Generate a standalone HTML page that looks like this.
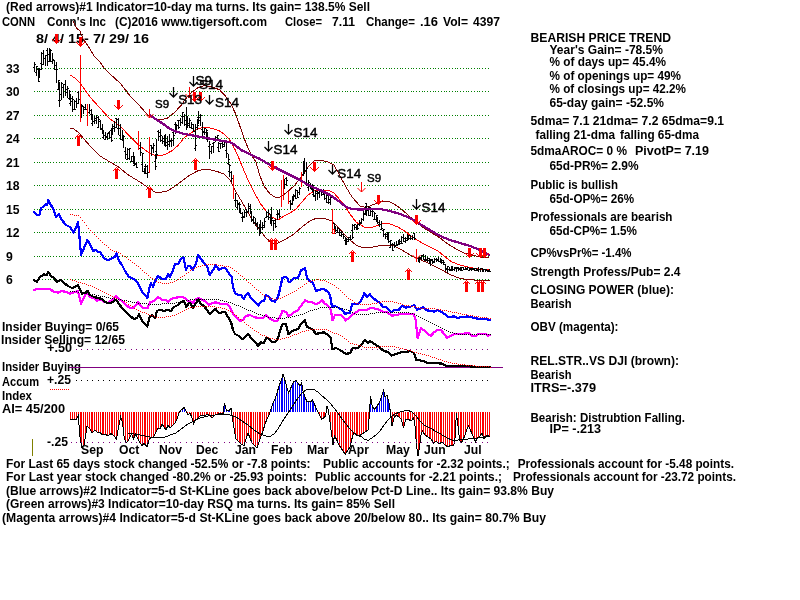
<!DOCTYPE html>
<html><head><meta charset="utf-8"><title>CONN Conn's Inc - TigerSoft chart</title>
<style>html,body{margin:0;padding:0;background:#fff;}svg{display:block}.t{font-family:"Liberation Sans",Arial,sans-serif;font-weight:bold;font-size:12.2px;fill:#000}.s{font-family:"Liberation Sans",Arial,sans-serif;fill:#000}</style></head><body>
<svg width="800" height="600" viewBox="0 0 800 600">
<rect width="800" height="600" fill="#fff"/>
<defs><pattern id="gd" x="34" y="0" width="11" height="1" patternUnits="userSpaceOnUse"><rect x="0" y="0" width="1" height="1" fill="#008000"/><rect x="3" y="0" width="1" height="1" fill="#008000"/><rect x="5" y="0" width="1" height="1" fill="#008000"/><rect x="8" y="0" width="1" height="1" fill="#008000"/></pattern></defs>
<text class="t" x="6" y="10.5" textLength="364.0" lengthAdjust="spacingAndGlyphs">(Red arrows)#1 Indicator=10-day ma turns. Its gain= 138.5% Sell</text>
<text class="t" x="2" y="26" textLength="33.0" lengthAdjust="spacingAndGlyphs">CONN</text>
<text class="t" x="47" y="26" textLength="59.0" lengthAdjust="spacingAndGlyphs">Conn's Inc</text>
<text class="t" x="115" y="26" textLength="152.0" lengthAdjust="spacingAndGlyphs">(C)2016 www.tigersoft.com</text>
<text class="t" x="285" y="26" textLength="37.0" lengthAdjust="spacingAndGlyphs">Close=</text>
<text class="t" x="332" y="26" textLength="23.0" lengthAdjust="spacingAndGlyphs">7.11</text>
<text class="t" x="366" y="26" textLength="49.0" lengthAdjust="spacingAndGlyphs">Change=</text>
<text class="t" x="420" y="26" textLength="18.0" lengthAdjust="spacingAndGlyphs">.16</text>
<text class="t" x="443" y="26" textLength="25.0" lengthAdjust="spacingAndGlyphs">Vol=</text>
<text class="t" x="473" y="26" textLength="27.0" lengthAdjust="spacingAndGlyphs">4397</text>
<text class="t" x="36" y="43" textLength="113.0" lengthAdjust="spacingAndGlyphs">8/ 4/ 15- 7/ 29/ 16</text>
<text class="t" x="530.5" y="42" textLength="140.5" lengthAdjust="spacingAndGlyphs">BEARISH PRICE TREND</text>
<text class="t" x="549.5" y="54" textLength="113.5" lengthAdjust="spacingAndGlyphs">Year's Gain= -78.5%</text>
<text class="t" x="549.5" y="66" textLength="116.5" lengthAdjust="spacingAndGlyphs">% of days up= 45.4%</text>
<text class="t" x="549.5" y="80" textLength="131.5" lengthAdjust="spacingAndGlyphs">% of openings up= 49%</text>
<text class="t" x="549.5" y="93" textLength="136.5" lengthAdjust="spacingAndGlyphs">% of closings up= 42.2%</text>
<text class="t" x="549.5" y="107" textLength="114.5" lengthAdjust="spacingAndGlyphs">65-day gain= -52.5%</text>
<text class="t" x="530.5" y="125" textLength="193.5" lengthAdjust="spacingAndGlyphs">5dma= 7.1 21dma= 7.2 65dma=9.1</text>
<text class="t" x="535.5" y="138.5" textLength="79.5" lengthAdjust="spacingAndGlyphs">falling 21-dma</text>
<text class="t" x="620" y="138.5" textLength="79.0" lengthAdjust="spacingAndGlyphs">falling 65-dma</text>
<text class="t" x="530.5" y="154.5" textLength="96.5" lengthAdjust="spacingAndGlyphs">5dmaAROC= 0 %</text>
<text class="t" x="635" y="154.5" textLength="74.0" lengthAdjust="spacingAndGlyphs">PivotP= 7.19</text>
<text class="t" x="549.5" y="170" textLength="89.0" lengthAdjust="spacingAndGlyphs">65d-PR%= 2.9%</text>
<text class="t" x="530.5" y="188.5" textLength="87.5" lengthAdjust="spacingAndGlyphs">Public is bullish</text>
<text class="t" x="549.5" y="202.5" textLength="84.5" lengthAdjust="spacingAndGlyphs">65d-OP%= 26%</text>
<text class="t" x="530.5" y="220.5" textLength="142.0" lengthAdjust="spacingAndGlyphs">Professionals are bearish</text>
<text class="t" x="549.5" y="234.5" textLength="87.5" lengthAdjust="spacingAndGlyphs">65d-CP%= 1.5%</text>
<text class="t" x="530.5" y="257" textLength="101.0" lengthAdjust="spacingAndGlyphs">CP%vsPr%= -1.4%</text>
<text class="t" x="530.5" y="275.5" textLength="150.0" lengthAdjust="spacingAndGlyphs">Strength Profess/Pub= 2.4</text>
<text class="t" x="530.5" y="293.5" textLength="143.5" lengthAdjust="spacingAndGlyphs">CLOSING POWER (blue):</text>
<text class="t" x="530.5" y="307.5" textLength="41.0" lengthAdjust="spacingAndGlyphs">Bearish</text>
<text class="t" x="530.5" y="330.5" textLength="88.0" lengthAdjust="spacingAndGlyphs">OBV (magenta):</text>
<text class="t" x="530.5" y="365" textLength="148.5" lengthAdjust="spacingAndGlyphs">REL.STR..VS DJI (brown):</text>
<text class="t" x="530.5" y="378.5" textLength="41.0" lengthAdjust="spacingAndGlyphs">Bearish</text>
<text class="t" x="530.5" y="391.5" textLength="65.5" lengthAdjust="spacingAndGlyphs">ITRS=-.379</text>
<text class="t" x="530.5" y="422" textLength="154.5" lengthAdjust="spacingAndGlyphs">Bearish: Distrubtion Falling.</text>
<text class="t" x="549.5" y="432.5" textLength="51.5" lengthAdjust="spacingAndGlyphs">IP= -.213</text>
<text class="t" x="2" y="330.5" textLength="117.0" lengthAdjust="spacingAndGlyphs">Insider Buying= 0/65</text>
<text class="t" x="1" y="344" textLength="124.0" lengthAdjust="spacingAndGlyphs">Insider Selling= 12/65</text>
<text class="t" x="47" y="352" textLength="25.0" lengthAdjust="spacingAndGlyphs">+.50</text>
<text class="t" x="2" y="370.7" textLength="79.0" lengthAdjust="spacingAndGlyphs">Insider Buying</text>
<text class="t" x="2" y="385.5" textLength="37.0" lengthAdjust="spacingAndGlyphs">Accum</text>
<text class="t" x="47" y="384" textLength="24.0" lengthAdjust="spacingAndGlyphs">+.25</text>
<text class="t" x="2" y="399.5" textLength="30.0" lengthAdjust="spacingAndGlyphs">Index</text>
<text class="t" x="2" y="412.5" textLength="63.0" lengthAdjust="spacingAndGlyphs">AI= 45/200</text>
<text class="t" x="47" y="445.7" textLength="21.0" lengthAdjust="spacingAndGlyphs">-.25</text>
<text class="t" x="6" y="468" textLength="304.6" lengthAdjust="spacingAndGlyphs">For Last 65 days stock changed -52.5% or -7.8 points:</text>
<text class="t" x="323" y="468" textLength="186.7" lengthAdjust="spacingAndGlyphs">Public accounts for -2.32 points.;</text>
<text class="t" x="517.7" y="468" textLength="216.3" lengthAdjust="spacingAndGlyphs">Professionals account for -5.48 points.</text>
<text class="t" x="6" y="481" textLength="301.0" lengthAdjust="spacingAndGlyphs">For Last year stock changed -80.2% or -25.93 points:</text>
<text class="t" x="315" y="481" textLength="187.0" lengthAdjust="spacingAndGlyphs">Public accounts for -2.21 points.;</text>
<text class="t" x="513" y="481" textLength="223.0" lengthAdjust="spacingAndGlyphs">Professionals account for -23.72 points.</text>
<text class="t" x="6" y="494.5" textLength="548.0" lengthAdjust="spacingAndGlyphs">(Blue arrows)#2 Indicator=5-d St-KLine goes back above/below Pct-D Line.. Its gain= 93.8% Buy</text>
<text class="t" x="6" y="508" textLength="389.0" lengthAdjust="spacingAndGlyphs">(Green arrows)#3 Indicator=10-day RSQ ma turns. Its gain= 85% Sell</text>
<text class="t" x="2" y="521.5" textLength="544.0" lengthAdjust="spacingAndGlyphs">(Magenta arrows)#4 Indicator=5-d St-KLine goes back above 20/below 80.. Its gain= 80.7% Buy</text>
<text class="t" x="6" y="73">33</text>
<text class="t" x="6" y="96">30</text>
<text class="t" x="6" y="120">27</text>
<text class="t" x="6" y="143">24</text>
<text class="t" x="6" y="167">21</text>
<text class="t" x="6" y="190">18</text>
<text class="t" x="6" y="214">15</text>
<text class="t" x="6" y="237">12</text>
<text class="t" x="6" y="261">9</text>
<text class="t" x="6" y="284">6</text>
<text class="t" x="81" y="453.6">Sep</text>
<text class="t" x="119" y="453.6">Oct</text>
<text class="t" x="159" y="453.6">Nov</text>
<text class="t" x="196" y="453.6">Dec</text>
<text class="t" x="235" y="453.6">Jan</text>
<text class="t" x="271" y="453.6">Feb</text>
<text class="t" x="307" y="453.6">Mar</text>
<text class="t" x="348" y="453.6">Apr</text>
<text class="t" x="386" y="453.6">May</text>
<text class="t" x="424" y="453.6">Jun</text>
<text class="t" x="464" y="453.6">Jul</text>
<g shape-rendering="crispEdges">
<rect x="34" y="68" width="456" height="1" fill="url(#gd)"/>
<rect x="34" y="91" width="456" height="1" fill="url(#gd)"/>
<rect x="34" y="115" width="456" height="1" fill="url(#gd)"/>
<rect x="34" y="138" width="456" height="1" fill="url(#gd)"/>
<rect x="34" y="162" width="456" height="1" fill="url(#gd)"/>
<rect x="34" y="185" width="456" height="1" fill="url(#gd)"/>
<rect x="34" y="209" width="456" height="1" fill="url(#gd)"/>
<rect x="34" y="232" width="456" height="1" fill="url(#gd)"/>
<rect x="34" y="256" width="456" height="1" fill="url(#gd)"/>
<rect x="34" y="279" width="456" height="1" fill="url(#gd)"/>
</g>
<g shape-rendering="crispEdges">
<path d="M70.5 412V420M72.5 412V419M74.5 412V420M76.5 412V419M78.5 412V415M80.5 412V437M81.5 412V447M83.5 412V445M85.5 412V436M87.5 412V426M89.5 412V428M91.5 412V431M92.5 412V432M94.5 412V430M96.5 412V432M98.5 412V433M100.5 412V432M102.5 412V435M103.5 412V434M105.5 412V434M107.5 412V436M109.5 412V435M111.5 412V434M112.5 412V435M114.5 412V437M116.5 412V438M118.5 412V428M120.5 412V419M122.5 412V421M123.5 412V435M125.5 412V442M127.5 412V441M129.5 412V438M131.5 412V435M133.5 412V438M134.5 412V436M136.5 412V436M138.5 412V440M140.5 412V443M142.5 412V446M144.5 412V443M145.5 412V445M147.5 412V445M149.5 412V439M151.5 412V437M153.5 412V438M155.5 412V434M156.5 412V430M158.5 412V428M160.5 412V428M162.5 412V424M164.5 412V427M165.5 412V430M167.5 412V426M169.5 412V427M171.5 412V427M173.5 412V425M175.5 412V423M176.5 412V419M178.5 412V414M187.5 412V415M189.5 412V413M191.5 412V417M193.5 412V423M195.5 412V421M197.5 412V419M198.5 412V417M200.5 412V415M202.5 412V415M204.5 412V415M206.5 412V415M207.5 412V414M209.5 412V416M211.5 412V418M213.5 412V417M215.5 412V415M217.5 412V414M218.5 412V414M220.5 412V414M222.5 412V414M231.5 412V413M233.5 412V425M235.5 412V436M237.5 412V440M239.5 412V442M240.5 412V444M242.5 412V445M244.5 412V444M246.5 412V438M248.5 412V433M250.5 412V438M251.5 412V443M253.5 412V445M255.5 412V446M257.5 412V447M259.5 412V442M260.5 412V436M262.5 412V431M264.5 412V425M266.5 412V420M268.5 412V416M319.5 412V415M321.5 412V418M323.5 412V418M324.5 412V417M330.5 412V425M332.5 412V439M334.5 412V438M335.5 412V438M337.5 412V442M339.5 412V446M341.5 412V449M343.5 412V451M345.5 412V453M346.5 412V452M348.5 412V449M350.5 412V445M352.5 412V437M354.5 412V433M356.5 412V435M357.5 412V436M359.5 412V436M361.5 412V434M363.5 412V433M365.5 412V432M366.5 412V431M368.5 412V422M390.5 412V415M392.5 412V424M394.5 412V417M396.5 412V415M398.5 412V416M399.5 412V418M401.5 412V420M403.5 412V428M405.5 412V421M407.5 412V419M408.5 412V420M410.5 412V421M412.5 412V419M414.5 412V423M416.5 412V443M418.5 412V455M419.5 412V443M421.5 412V433M423.5 412V433M425.5 412V435M427.5 412V437M429.5 412V438M430.5 412V439M432.5 412V442M434.5 412V442M436.5 412V441M438.5 412V443M440.5 412V443M441.5 412V442M443.5 412V444M445.5 412V445M447.5 412V447M449.5 412V446M451.5 412V445M452.5 412V446M454.5 412V440M456.5 412V414M458.5 412V429M460.5 412V441M461.5 412V442M463.5 412V438M465.5 412V433M467.5 412V428M469.5 412V428M471.5 412V432M472.5 412V436M474.5 412V440M476.5 412V440M478.5 412V437M480.5 412V436M482.5 412V433M483.5 412V439M485.5 412V436M487.5 412V435M489.5 412V436" stroke="#f00" stroke-width="1" fill="none"/>
<path d="M180.5 412V411M182.5 412V410M184.5 412V407M186.5 412V411M224.5 412V403M226.5 412V410M228.5 412V411M229.5 412V410M271.5 412V406M273.5 412V401M275.5 412V397M277.5 412V391M279.5 412V385M281.5 412V381M282.5 412V375M284.5 412V379M286.5 412V386M288.5 412V392M290.5 412V389M292.5 412V385M293.5 412V382M295.5 412V381M297.5 412V382M299.5 412V385M301.5 412V384M303.5 412V391M304.5 412V397M306.5 412V401M308.5 412V401M310.5 412V402M312.5 412V400M313.5 412V403M315.5 412V408M317.5 412V411M326.5 412V408M328.5 412V411M370.5 412V397M372.5 412V407M374.5 412V409M376.5 412V407M377.5 412V405M379.5 412V401M381.5 412V396M383.5 412V391M385.5 412V397M387.5 412V395M388.5 412V403" stroke="#00f" stroke-width="1" fill="none"/>
<polyline points="70.0,420.0 73.0,419.0 76.0,420.0 78.4,415.0 79.6,434.0 81.6,447.0 84.0,445.0 85.6,436.0 87.0,426.0 90.0,429.0 92.0,433.0 95.0,430.0 98.0,433.0 100.0,432.0 102.0,435.0 105.0,434.0 108.0,436.0 111.0,433.6 114.0,436.0 116.4,439.0 118.4,428.0 120.6,417.0 122.4,422.0 124.0,436.0 126.0,443.0 128.0,441.0 130.0,437.0 131.6,434.0 133.6,439.0 135.6,434.0 137.6,438.0 139.6,442.0 142.0,446.0 144.0,443.0 147.0,447.0 149.0,440.0 151.0,437.0 153.0,438.0 156.0,432.0 158.0,428.0 160.0,429.0 162.0,424.0 164.0,427.0 166.0,430.0 168.0,425.0 170.0,428.0 172.0,426.0 175.0,423.0 177.0,419.0 179.0,413.0 181.0,410.0 182.4,409.6 184.0,407.0 186.0,411.0 188.0,415.0 190.0,413.0 192.0,418.0 193.6,424.0 195.6,420.0 198.0,418.0 201.0,415.0 204.0,415.6 208.0,414.4 212.0,418.0 215.0,415.0 220.0,413.6 223.0,414.0 224.4,403.0 226.4,410.0 229.0,411.0 231.0,408.0 232.4,418.0 234.0,428.0 236.0,439.0 239.0,442.0 241.0,444.0 244.0,445.6 246.0,439.0 248.0,433.0 250.0,438.0 252.0,443.0 255.0,446.0 257.0,447.6 259.0,442.0 261.0,436.0 263.0,431.0 265.0,424.0 267.0,419.0 269.0,415.0 271.0,409.0 273.0,403.0 275.0,399.0 277.0,393.0 279.0,386.0 281.0,381.0 283.0,374.4 285.0,380.0 287.0,388.0 288.6,393.0 290.0,390.0 292.0,385.0 294.0,381.6 296.0,380.4 298.0,383.0 300.0,386.0 301.6,383.0 303.0,391.0 305.0,397.0 307.0,402.0 309.0,401.0 311.0,402.0 312.4,400.0 314.0,403.0 316.0,408.0 318.0,412.0 320.0,416.0 321.6,419.0 323.6,418.0 325.6,416.0 327.0,406.0 328.4,410.0 330.0,422.0 331.6,434.0 333.0,445.0 334.4,436.0 336.4,439.0 338.4,444.0 341.0,448.0 343.6,452.0 345.6,454.0 348.0,450.0 350.0,447.0 351.6,440.0 353.6,433.0 356.0,435.0 359.0,436.0 362.0,434.0 365.0,432.0 368.0,430.0 369.6,413.0 370.4,396.0 372.4,407.0 374.4,409.0 376.4,407.0 378.4,404.0 380.4,400.0 382.0,395.0 383.6,390.0 385.0,397.0 387.0,395.0 389.0,403.0 390.4,412.0 392.0,426.0 394.0,418.0 396.0,415.0 399.0,417.0 401.6,420.0 403.6,428.0 405.6,420.0 408.0,419.0 411.0,421.0 413.6,418.0 415.0,426.0 416.4,444.0 418.0,456.0 419.6,446.0 421.0,435.0 422.4,431.0 425.0,435.0 428.0,437.0 431.0,439.0 433.6,443.0 436.0,441.0 439.0,444.0 442.0,442.0 445.0,445.0 448.0,447.0 451.0,445.0 453.6,446.0 455.0,438.0 456.4,413.0 458.0,426.0 459.6,440.0 461.0,443.0 463.0,440.0 465.0,435.0 467.0,429.0 468.4,426.0 470.0,429.0 472.0,434.0 474.0,438.0 475.6,442.0 477.6,438.0 480.0,436.0 482.0,433.0 484.0,439.0 486.0,436.0 488.0,435.0 490.0,437.0" fill="none" stroke="#000" stroke-width="1"/>
<polyline points="128.0,433.0 140.0,435.0 150.0,437.0 160.0,438.0 164.0,437.6 170.0,435.0 176.0,433.0 180.0,430.0 184.0,427.0 188.0,424.0 192.0,422.0 196.0,420.0 200.0,418.0 204.0,417.0 210.0,415.6 220.0,414.4 230.0,415.0 236.0,417.0 242.0,421.0 248.0,425.0 254.0,430.0 260.0,434.0 266.0,436.0 270.0,436.4 274.0,434.0 278.0,429.0 282.0,422.0 286.0,416.0 290.0,410.0 294.0,404.0 298.0,398.0 302.0,393.0 306.0,390.0 310.0,389.4 314.0,389.6 318.0,392.0 322.0,396.0 326.0,399.0 330.0,403.0 334.0,408.0 338.0,413.0 342.0,419.0 346.0,424.0 350.0,429.0 354.0,433.0 358.0,435.6 362.0,437.0 364.0,439.0 368.0,440.4 372.0,438.0 376.0,435.0 380.0,431.0 384.0,425.0 388.0,420.0 392.0,416.0 396.0,413.6 400.0,412.0 404.0,411.0 408.0,410.4 412.0,412.0 416.0,416.0 420.0,421.0 424.0,425.0 428.0,427.0 432.0,429.0 436.0,431.6 440.0,433.6 444.0,436.0 448.0,438.4 452.0,440.0 456.0,440.4 460.0,439.6 468.0,439.0 476.0,438.4 484.0,437.0 490.0,436.0" fill="none" stroke="#000" stroke-width="1"/>
</g>
<g shape-rendering="crispEdges" fill="none">
<line x1="76" y1="349.5" x2="489" y2="349.5" stroke="#800080" stroke-width="1" stroke-dasharray="1 4.48"/>
<line x1="70.5" y1="442.5" x2="489" y2="442.5" stroke="#800080" stroke-width="1" stroke-dasharray="1 4.48"/>
<line x1="76" y1="380.5" x2="489" y2="380.5" stroke="#000" stroke-width="1" stroke-dasharray="1 4.48"/>
<line x1="69" y1="367.5" x2="503" y2="367.5" stroke="#800080" stroke-width="1"/>
<line x1="50" y1="389.5" x2="70" y2="389.5" stroke="#f00" stroke-width="1" stroke-dasharray="1 1"/>
<line x1="32.5" y1="439" x2="32.5" y2="456" stroke="#808000" stroke-width="1"/>
</g>
<g shape-rendering="crispEdges" fill="none" stroke-linejoin="round">
<polyline points="73.0,21.0 76.5,28.0 80.0,31.0 83.0,39.0 86.0,43.0 90.0,49.0 94.0,56.0 100.0,62.0 104.0,68.0 110.0,74.0 120.0,83.0 125.5,90.0 130.0,96.0 133.0,99.0 139.0,105.0 145.0,112.0 149.5,116.5 155.5,119.2 160.6,120.0 167.5,118.0 174.4,112.6 178.0,108.7 181.3,105.0 186.8,97.5 192.3,92.0 197.8,87.9 203.3,85.8 208.8,86.2 214.3,87.6 219.8,90.0 225.3,96.0 230.8,103.7 235.0,112.5 239.0,123.5 244.0,138.0 248.0,148.0 252.0,156.0 256.0,162.0 260.0,176.0 264.0,186.0 270.0,194.0 276.0,197.6 280.0,197.0 286.0,193.0 294.0,186.0 302.0,176.0 308.0,167.0 314.0,161.0 320.0,160.0 328.0,162.0 334.0,165.0 340.0,176.0 346.0,187.0 352.0,197.0 360.0,206.0 366.0,207.6 372.0,205.0 380.0,202.0 388.0,201.0 394.0,204.0 400.0,208.0 408.0,215.0 416.0,222.0 424.0,228.0 432.0,233.0 440.0,238.0 448.0,244.0 456.0,249.0 464.0,253.0 472.0,255.0 480.0,257.0 489.0,258.0" stroke="#800000" stroke-width="1"/>
<polyline points="70.0,128.0 74.0,129.0 79.0,133.0 84.0,139.0 90.0,146.0 94.0,150.0 100.0,156.0 110.0,162.0 118.0,166.5 127.0,174.0 130.0,176.0 140.0,182.0 150.0,189.0 156.0,192.6 166.0,191.6 174.0,187.0 182.0,181.0 190.0,175.0 199.0,170.2 208.0,169.3 217.0,171.5 224.0,174.0 230.0,180.0 236.0,192.0 242.0,202.0 250.0,216.0 258.0,228.0 266.0,238.0 272.0,243.0 278.0,243.0 286.0,239.0 294.0,234.0 302.0,227.0 310.0,221.0 316.0,218.4 326.0,219.0 332.0,221.0 338.0,227.0 344.0,234.0 350.0,240.0 356.0,245.0 362.0,247.6 370.0,247.6 378.0,246.0 386.0,245.0 394.0,246.0 402.0,250.0 410.0,255.0 418.0,259.0 426.0,262.0 434.0,266.0 442.0,270.0 450.0,274.5 458.0,277.8 466.0,279.4 474.0,280.0 482.0,280.6 490.0,281.0" stroke="#800000" stroke-width="1"/>
<polyline points="70.0,75.0 75.0,78.0 80.0,83.0 85.0,90.0 90.0,97.0 100.0,108.0 110.0,119.0 120.0,126.0 130.0,136.5 137.5,144.0 145.0,150.0 151.0,153.7 157.0,156.0 164.5,154.8 172.0,150.7 178.0,145.5 184.0,138.0 190.0,133.5 196.0,130.0 202.0,127.5 208.0,127.5 214.0,129.0 220.0,131.2 226.0,135.7 230.5,141.0 235.0,149.5 238.0,156.0 242.0,166.0 248.0,180.0 254.0,192.0 260.0,203.0 266.0,211.0 272.0,217.0 278.0,220.0 284.0,216.0 290.0,213.0 296.0,209.0 302.0,202.0 308.0,195.0 314.0,191.0 320.0,190.0 328.0,190.0 334.0,193.0 340.0,200.0 346.0,208.0 350.0,214.0 356.0,222.0 364.0,227.0 370.0,228.0 376.0,226.0 382.0,223.6 390.0,224.0 398.0,227.0 406.0,232.0 414.0,238.0 422.0,243.0 430.0,247.0 438.0,251.0 444.0,256.0 452.0,262.0 460.0,265.0 468.0,267.0 478.0,269.0 489.0,270.0" stroke="#f00" stroke-width="1"/>
</g>
<g shape-rendering="crispEdges" fill="none">
<path d="M34.5 62V72M33.0 67.5h1.5M34.5 64.5h1.5M36.5 66V76M35.0 72.5h1.5M36.5 66.5h1.5M38.5 68V82M37.0 69.5h1.5M38.5 81.5h1.5M39.5 68V78M38.0 76.5h1.5M39.5 69.5h1.5M41.5 52V70M40.0 63.5h1.5M41.5 53.5h1.5M43.5 50V65M42.0 64.5h1.5M43.5 58.5h1.5M45.5 55V66M44.0 58.5h1.5M45.5 55.5h1.5M47.5 48V66M46.0 50.5h1.5M47.5 61.5h1.5M49.5 48V62M48.0 54.5h1.5M49.5 49.5h1.5M50.5 49V62M49.0 52.5h1.5M50.5 50.5h1.5M52.5 53V64M51.0 61.5h1.5M52.5 59.5h1.5M54.5 60V70M53.0 60.5h1.5M54.5 69.5h1.5M56.5 62V83M55.0 65.5h1.5M56.5 69.5h1.5M58.5 80V90M57.0 89.5h1.5M58.5 80.5h1.5M59.5 82V107M58.0 100.5h1.5M59.5 100.5h1.5M61.5 82V100M60.0 94.5h1.5M61.5 83.5h1.5M63.5 84V98M62.0 87.5h1.5M63.5 84.5h1.5M65.5 80V96M64.0 84.5h1.5M65.5 89.5h1.5M67.5 86V98M66.0 92.5h1.5M67.5 88.5h1.5M69.5 90V100M68.0 98.5h1.5M69.5 91.5h1.5M70.5 94V106M69.0 103.5h1.5M70.5 98.5h1.5M72.5 96V112M71.0 101.5h1.5M72.5 99.5h1.5M74.5 100V110M73.0 109.5h1.5M74.5 109.5h1.5M76.5 98V108M75.0 101.5h1.5M76.5 103.5h1.5M78.5 91V104M77.0 92.5h1.5M78.5 99.5h1.5M81.5 104V118M80.0 115.5h1.5M81.5 105.5h1.5M83.5 106V114M82.0 106.5h1.5M83.5 109.5h1.5M85.5 104V110M84.0 107.5h1.5M85.5 109.5h1.5M89.5 104V114M88.0 112.5h1.5M89.5 110.5h1.5M91.5 109V120M90.0 114.5h1.5M91.5 116.5h1.5M92.5 114V126M91.0 123.5h1.5M92.5 121.5h1.5M94.5 116V124M93.0 121.5h1.5M94.5 120.5h1.5M96.5 115V124M95.0 118.5h1.5M96.5 117.5h1.5M98.5 116V128M97.0 127.5h1.5M98.5 119.5h1.5M100.5 120V130M99.0 121.5h1.5M100.5 129.5h1.5M102.5 124V134M101.0 128.5h1.5M102.5 132.5h1.5M103.5 130V139M102.0 137.5h1.5M103.5 135.5h1.5M105.5 132V140M104.0 139.5h1.5M105.5 136.5h1.5M107.5 133V140M106.0 137.5h1.5M107.5 133.5h1.5M109.5 131V139M108.0 132.5h1.5M109.5 137.5h1.5M111.5 128V142M110.0 130.5h1.5M111.5 140.5h1.5M112.5 124V135M111.0 129.5h1.5M112.5 126.5h1.5M114.5 121V132M113.0 128.5h1.5M114.5 127.5h1.5M116.5 118V128M115.0 118.5h1.5M116.5 119.5h1.5M118.5 118V135M117.0 128.5h1.5M118.5 128.5h1.5M120.5 124V140M119.0 135.5h1.5M120.5 139.5h1.5M122.5 130V141M121.0 139.5h1.5M122.5 137.5h1.5M123.5 135V148M122.0 136.5h1.5M123.5 136.5h1.5M125.5 147V159M124.0 151.5h1.5M125.5 154.5h1.5M127.5 148V160M126.0 159.5h1.5M127.5 158.5h1.5M129.5 148V160M128.0 149.5h1.5M129.5 148.5h1.5M131.5 156V162M130.0 161.5h1.5M131.5 161.5h1.5M133.5 152V164M132.0 156.5h1.5M133.5 162.5h1.5M134.5 156V166M133.0 165.5h1.5M134.5 163.5h1.5M136.5 162V168M135.0 164.5h1.5M136.5 167.5h1.5M140.5 142V156M139.0 148.5h1.5M140.5 152.5h1.5M142.5 153V172M141.0 164.5h1.5M142.5 153.5h1.5M144.5 168V174M143.0 171.5h1.5M144.5 170.5h1.5M145.5 164V174M144.0 166.5h1.5M145.5 173.5h1.5M147.5 165V178M146.0 166.5h1.5M147.5 172.5h1.5M151.5 145V156M150.0 145.5h1.5M151.5 148.5h1.5M153.5 143V153M152.0 147.5h1.5M153.5 145.5h1.5M155.5 154V170M154.0 161.5h1.5M155.5 166.5h1.5M156.5 139V159M155.0 151.5h1.5M156.5 154.5h1.5M158.5 130V141M157.0 131.5h1.5M158.5 132.5h1.5M160.5 129V142M159.0 136.5h1.5M160.5 135.5h1.5M162.5 136V144M161.0 140.5h1.5M162.5 138.5h1.5M164.5 135V146M163.0 141.5h1.5M164.5 143.5h1.5M165.5 134V147M164.0 138.5h1.5M165.5 145.5h1.5M167.5 136V150M166.0 142.5h1.5M167.5 141.5h1.5M169.5 134V147M168.0 144.5h1.5M169.5 140.5h1.5M171.5 138V147M170.0 141.5h1.5M171.5 140.5h1.5M173.5 130V146M172.0 132.5h1.5M173.5 135.5h1.5M175.5 122V134M174.0 124.5h1.5M175.5 125.5h1.5M176.5 124V130M175.0 129.5h1.5M176.5 125.5h1.5M178.5 120V129M177.0 120.5h1.5M178.5 127.5h1.5M180.5 118V126M179.0 120.5h1.5M180.5 122.5h1.5M182.5 112V124M181.0 116.5h1.5M182.5 112.5h1.5M184.5 114V126M183.0 116.5h1.5M184.5 120.5h1.5M186.5 107V130M185.0 124.5h1.5M186.5 118.5h1.5M187.5 116V128M186.0 125.5h1.5M187.5 125.5h1.5M189.5 118V128M188.0 123.5h1.5M189.5 120.5h1.5M191.5 122V129M190.0 127.5h1.5M191.5 128.5h1.5M193.5 124V132M192.0 124.5h1.5M193.5 131.5h1.5M195.5 124V151M194.0 148.5h1.5M195.5 145.5h1.5M197.5 119V130M196.0 127.5h1.5M197.5 125.5h1.5M198.5 111V124M197.0 117.5h1.5M198.5 117.5h1.5M200.5 114V126M199.0 120.5h1.5M200.5 115.5h1.5M202.5 122V136M201.0 129.5h1.5M202.5 132.5h1.5M204.5 128V135M203.0 131.5h1.5M204.5 128.5h1.5M206.5 129V140M205.0 132.5h1.5M206.5 130.5h1.5M207.5 132V142M206.0 135.5h1.5M207.5 139.5h1.5M209.5 141V159M208.0 146.5h1.5M209.5 144.5h1.5M211.5 146V154M210.0 151.5h1.5M211.5 146.5h1.5M213.5 142V153M212.0 143.5h1.5M213.5 142.5h1.5M215.5 136V142M214.0 140.5h1.5M215.5 137.5h1.5M217.5 135V141M216.0 139.5h1.5M217.5 135.5h1.5M218.5 142V152M217.0 147.5h1.5M218.5 151.5h1.5M220.5 143V149M219.0 143.5h1.5M220.5 143.5h1.5M222.5 142V148M221.0 143.5h1.5M222.5 146.5h1.5M224.5 141V147M223.0 144.5h1.5M224.5 142.5h1.5M226.5 142V158M225.0 150.5h1.5M226.5 153.5h1.5M228.5 154V165M227.0 163.5h1.5M228.5 159.5h1.5M229.5 164V177M228.0 171.5h1.5M229.5 165.5h1.5M231.5 171V182M230.0 172.5h1.5M231.5 178.5h1.5M235.5 193V207M234.0 200.5h1.5M235.5 200.5h1.5M237.5 200V210M236.0 207.5h1.5M237.5 204.5h1.5M239.5 202V213M238.0 203.5h1.5M239.5 204.5h1.5M240.5 208V214M239.0 208.5h1.5M240.5 213.5h1.5M242.5 212V222M241.0 217.5h1.5M242.5 216.5h1.5M244.5 210V218M243.0 217.5h1.5M244.5 212.5h1.5M246.5 209V217M245.0 209.5h1.5M246.5 212.5h1.5M248.5 203V212M247.0 211.5h1.5M248.5 208.5h1.5M250.5 204V214M249.0 206.5h1.5M250.5 212.5h1.5M251.5 211V222M250.0 211.5h1.5M251.5 219.5h1.5M253.5 216V224M252.0 220.5h1.5M253.5 217.5h1.5M255.5 218V226M254.0 222.5h1.5M255.5 223.5h1.5M257.5 222V230M256.0 224.5h1.5M257.5 227.5h1.5M259.5 224V236M258.0 227.5h1.5M259.5 232.5h1.5M260.5 220V234M259.0 228.5h1.5M260.5 232.5h1.5M262.5 222V230M261.0 227.5h1.5M262.5 225.5h1.5M264.5 218V228M263.0 227.5h1.5M264.5 221.5h1.5M266.5 211V218M265.0 217.5h1.5M266.5 212.5h1.5M268.5 210V220M267.0 216.5h1.5M268.5 213.5h1.5M270.5 214V224M269.0 217.5h1.5M270.5 222.5h1.5M271.5 207V226M270.0 222.5h1.5M271.5 218.5h1.5M273.5 220V231M272.0 220.5h1.5M273.5 220.5h1.5M275.5 219V228M274.0 223.5h1.5M275.5 226.5h1.5M277.5 210V220M276.0 214.5h1.5M277.5 213.5h1.5M279.5 209V218M278.0 214.5h1.5M279.5 216.5h1.5M284.5 179V189M283.0 184.5h1.5M284.5 184.5h1.5M286.5 177V186M285.0 178.5h1.5M286.5 180.5h1.5M290.5 200V210M289.0 201.5h1.5M290.5 203.5h1.5M292.5 197V205M291.0 204.5h1.5M292.5 200.5h1.5M293.5 194V201M292.0 196.5h1.5M293.5 195.5h1.5M295.5 189V199M294.0 196.5h1.5M295.5 198.5h1.5M297.5 190V198M296.0 190.5h1.5M297.5 197.5h1.5M299.5 187V195M298.0 192.5h1.5M299.5 188.5h1.5M303.5 161V176M302.0 174.5h1.5M303.5 171.5h1.5M304.5 158V174M303.0 161.5h1.5M304.5 170.5h1.5M306.5 162V186M305.0 184.5h1.5M306.5 168.5h1.5M308.5 180V191M307.0 187.5h1.5M308.5 182.5h1.5M310.5 183V189M309.0 186.5h1.5M310.5 188.5h1.5M312.5 184V192M311.0 189.5h1.5M312.5 185.5h1.5M313.5 188V197M312.0 194.5h1.5M313.5 195.5h1.5M315.5 190V201M314.0 196.5h1.5M315.5 191.5h1.5M317.5 191V200M316.0 193.5h1.5M317.5 193.5h1.5M319.5 191V198M318.0 192.5h1.5M319.5 191.5h1.5M321.5 190V196M320.0 191.5h1.5M321.5 194.5h1.5M323.5 189V195M322.0 192.5h1.5M323.5 194.5h1.5M324.5 191V200M323.0 193.5h1.5M324.5 198.5h1.5M326.5 193V203M325.0 198.5h1.5M326.5 195.5h1.5M328.5 194V204M327.0 202.5h1.5M328.5 202.5h1.5M330.5 197V205M329.0 199.5h1.5M330.5 197.5h1.5M334.5 223V234M333.0 223.5h1.5M334.5 233.5h1.5M335.5 226V232M334.0 226.5h1.5M335.5 230.5h1.5M337.5 227V233M336.0 232.5h1.5M337.5 228.5h1.5M339.5 229V236M338.0 232.5h1.5M339.5 235.5h1.5M341.5 231V237M340.0 232.5h1.5M341.5 232.5h1.5M343.5 234V239M342.0 234.5h1.5M343.5 236.5h1.5M345.5 237V245M344.0 240.5h1.5M345.5 241.5h1.5M346.5 238V245M345.0 242.5h1.5M346.5 239.5h1.5M348.5 237V242M347.0 241.5h1.5M348.5 239.5h1.5M350.5 235V240M349.0 237.5h1.5M350.5 239.5h1.5M352.5 224V239M351.0 230.5h1.5M352.5 237.5h1.5M354.5 224V230M353.0 225.5h1.5M354.5 224.5h1.5M356.5 225V230M355.0 227.5h1.5M356.5 228.5h1.5M357.5 224V230M356.0 229.5h1.5M357.5 228.5h1.5M359.5 220V226M358.0 224.5h1.5M359.5 223.5h1.5M361.5 218V224M360.0 222.5h1.5M361.5 219.5h1.5M363.5 211V221M362.0 219.5h1.5M363.5 213.5h1.5M365.5 206V215M364.0 214.5h1.5M365.5 214.5h1.5M366.5 203V216M365.0 203.5h1.5M366.5 210.5h1.5M368.5 206V216M367.0 208.5h1.5M368.5 215.5h1.5M370.5 207V216M369.0 207.5h1.5M370.5 209.5h1.5M372.5 209V217M371.0 211.5h1.5M372.5 211.5h1.5M374.5 212V220M373.0 219.5h1.5M374.5 213.5h1.5M376.5 215V222M375.0 219.5h1.5M376.5 215.5h1.5M377.5 217V224M376.0 219.5h1.5M377.5 222.5h1.5M379.5 220V227M378.0 224.5h1.5M379.5 224.5h1.5M381.5 221V230M380.0 229.5h1.5M381.5 228.5h1.5M383.5 229V237M382.0 230.5h1.5M383.5 229.5h1.5M385.5 233V239M384.0 234.5h1.5M385.5 234.5h1.5M387.5 232V240M386.0 236.5h1.5M387.5 232.5h1.5M388.5 233V243M387.0 234.5h1.5M388.5 241.5h1.5M390.5 240V248M389.0 247.5h1.5M390.5 240.5h1.5M392.5 243V251M391.0 244.5h1.5M392.5 250.5h1.5M394.5 242V248M393.0 244.5h1.5M394.5 246.5h1.5M396.5 241V246M395.0 245.5h1.5M396.5 245.5h1.5M398.5 240V245M397.0 244.5h1.5M398.5 241.5h1.5M399.5 239V245M398.0 244.5h1.5M399.5 241.5h1.5M401.5 236V244M400.0 243.5h1.5M401.5 243.5h1.5M403.5 234V242M402.0 237.5h1.5M403.5 238.5h1.5M405.5 237V243M404.0 241.5h1.5M405.5 238.5h1.5M407.5 234V241M406.0 240.5h1.5M407.5 237.5h1.5M408.5 235V240M407.0 236.5h1.5M408.5 238.5h1.5M410.5 235V240M409.0 235.5h1.5M410.5 238.5h1.5M412.5 235V240M411.0 238.5h1.5M412.5 237.5h1.5M414.5 233V240M413.0 233.5h1.5M414.5 238.5h1.5M418.5 257V262M417.0 258.5h1.5M418.5 260.5h1.5M419.5 257V263M418.0 257.5h1.5M419.5 258.5h1.5M421.5 255V260M420.0 257.5h1.5M421.5 255.5h1.5M423.5 254V260M422.0 255.5h1.5M423.5 259.5h1.5M425.5 255V261M424.0 260.5h1.5M425.5 260.5h1.5M427.5 257V262M426.0 259.5h1.5M427.5 258.5h1.5M429.5 258V264M428.0 260.5h1.5M429.5 259.5h1.5M430.5 259V266M429.0 262.5h1.5M430.5 260.5h1.5M432.5 259V264M431.0 259.5h1.5M432.5 262.5h1.5M434.5 258V263M433.0 261.5h1.5M434.5 259.5h1.5M436.5 258V262M435.0 259.5h1.5M436.5 259.5h1.5M438.5 257V262M437.0 260.5h1.5M438.5 261.5h1.5M440.5 258V262M439.0 261.5h1.5M440.5 260.5h1.5M441.5 259V264M440.0 262.5h1.5M441.5 260.5h1.5M443.5 260V265M442.0 262.5h1.5M443.5 262.5h1.5M445.5 264V271M444.0 264.5h1.5M445.5 269.5h1.5M447.5 266V273M446.0 268.5h1.5M447.5 266.5h1.5M449.5 267V271M448.0 269.5h1.5M449.5 270.5h1.5M451.5 266V270M450.0 269.5h1.5M451.5 266.5h1.5M452.5 267V271M451.0 270.5h1.5M452.5 269.5h1.5M454.5 267V271M453.0 269.5h1.5M454.5 267.5h1.5M456.5 267V272M455.0 268.5h1.5M456.5 267.5h1.5M458.5 267V271M457.0 268.5h1.5M458.5 269.5h1.5M460.5 267V271M459.0 268.5h1.5M460.5 270.5h1.5M461.5 267V271M460.0 269.5h1.5M461.5 270.5h1.5M463.5 267V270M462.0 267.5h1.5M463.5 269.5h1.5M465.5 267V270M464.0 269.5h1.5M465.5 269.5h1.5M467.5 267V270M466.0 268.5h1.5M467.5 267.5h1.5M469.5 268V271M468.0 270.5h1.5M469.5 268.5h1.5M471.5 268V271M470.0 269.5h1.5M471.5 268.5h1.5M472.5 268V270M471.0 268.5h1.5M472.5 269.5h1.5M474.5 268V271M473.0 268.5h1.5M474.5 270.5h1.5M476.5 268V271M475.0 268.5h1.5M476.5 269.5h1.5M478.5 267V272M477.0 270.5h1.5M478.5 269.5h1.5M480.5 268V272M479.0 269.5h1.5M480.5 268.5h1.5M482.5 268V272M481.0 268.5h1.5M482.5 269.5h1.5M483.5 269V272M482.0 270.5h1.5M483.5 269.5h1.5M485.5 269V272M484.0 269.5h1.5M485.5 269.5h1.5M487.5 270V272M486.0 270.5h1.5M487.5 271.5h1.5M489.5 269V272M488.0 270.5h1.5M489.5 271.5h1.5" stroke="#000" stroke-width="1"/>
<path d="M80.5 55V122M87.5 104V126M138.5 131V150M149.5 137V173M233.5 175V199M281.5 180V207M283.5 175V200M288.5 191V204M301.5 172V187M332.5 209V234M416.5 249V262M332.5 229.5h2v4h-2" stroke="#f00" stroke-width="1"/>
</g>
<g fill="none" stroke-linejoin="round" stroke-linecap="round" shape-rendering="crispEdges">
<polyline points="150.0,115.5 157.0,120.0 163.0,123.7 169.0,128.2 175.0,131.2 182.5,133.5 190.0,135.0 197.5,136.4 205.0,137.7 212.5,139.3 220.0,140.5 227.5,141.7 232.0,143.0 236.0,146.0 242.0,150.5 250.0,154.2 260.0,159.0 270.0,165.0 280.0,170.0 290.0,175.0 300.0,180.0 310.0,186.0 320.0,190.0 330.0,195.0 340.0,202.0 346.0,207.0 352.0,209.0 360.0,209.6 370.0,209.0 380.0,209.0 390.0,211.0 400.0,214.0 410.0,218.0 420.0,224.0 430.0,230.0 440.0,236.0 450.0,240.0 460.0,243.0 470.0,246.0 480.0,250.0 489.0,255.0" stroke="#800080" stroke-width="2.3"/>
<polyline points="33.6,290.0 40.0,288.6 50.0,289.0 54.0,292.0 58.0,292.6 62.0,291.0 66.0,292.0 70.0,293.6 74.0,292.4 78.0,291.0 81.0,304.0 83.6,298.0 87.0,292.0 90.0,297.0 94.0,298.0 97.0,301.0 100.0,299.0 104.0,301.6 108.0,303.0 112.0,300.0 116.0,296.0 119.0,299.0 122.0,301.0 126.0,305.0 130.0,308.0 134.0,307.6 138.0,302.4 141.0,306.0 144.0,308.4 147.6,308.0 150.0,302.4 154.0,301.0 158.0,297.0 162.0,299.6 166.0,300.0 168.0,302.4 171.0,299.0 176.0,297.6 182.0,297.0 185.0,298.0 188.0,301.0 190.0,301.0 193.0,303.0 196.0,299.0 199.0,298.0 202.0,300.0 206.0,301.6 209.0,305.0 212.0,303.0 216.0,302.4 220.0,303.6 226.0,303.6 230.0,307.0 233.0,314.0 237.0,318.0 240.0,321.0 243.0,320.0 246.0,316.0 250.0,315.0 254.0,317.0 258.0,318.0 263.0,317.6 266.0,315.0 269.0,318.0 273.0,320.4 277.0,321.0 280.0,317.0 282.4,311.0 286.0,312.0 288.4,316.0 292.0,314.0 295.0,311.6 298.0,310.0 301.0,306.0 305.0,300.4 308.0,301.6 312.0,302.0 316.0,304.4 319.0,303.0 321.6,300.0 325.0,303.6 329.0,307.0 331.0,310.0 332.4,320.4 335.0,315.0 339.0,315.0 342.0,315.6 345.6,320.4 350.0,317.0 354.0,313.6 359.0,310.4 363.0,310.0 367.0,309.6 370.0,308.0 374.0,308.4 379.0,309.6 383.0,312.0 387.0,312.4 392.0,315.6 397.0,315.0 402.0,313.6 408.0,314.0 414.0,314.4 415.6,320.0 417.6,338.0 421.0,328.4 425.0,331.0 428.0,334.0 431.0,335.6 434.0,332.4 438.0,329.6 441.0,330.0 444.0,334.0 447.0,337.6 450.0,336.4 454.0,334.4 459.0,334.0 464.0,333.6 469.0,333.0 472.0,335.6 475.0,336.4 478.0,334.4 482.0,334.0 486.0,334.4 488.0,336.0 490.0,335.0" stroke="#f0f" stroke-width="2.2"/>
<polyline points="33.6,280.0 37.0,281.6 40.0,277.0 44.0,274.4 47.0,275.0 48.4,272.0 51.0,276.0 54.0,278.0 57.0,282.0 61.0,279.6 64.0,283.0 68.0,286.0 72.0,288.0 75.0,287.0 78.0,285.0 80.0,290.0 82.0,293.6 85.0,293.0 87.6,291.0 90.0,295.0 94.0,297.0 98.0,298.0 102.0,299.0 106.0,302.4 110.0,303.0 113.0,302.0 116.0,299.6 119.0,304.0 122.0,308.0 126.0,312.0 130.0,316.0 134.0,319.0 137.0,318.0 139.0,314.0 142.0,321.0 145.0,324.0 147.4,326.4 150.0,316.0 152.4,315.0 155.0,318.0 157.0,311.0 160.0,309.6 164.0,311.0 168.0,309.6 171.0,311.0 174.0,307.0 178.0,305.0 181.0,302.4 184.0,301.0 186.4,307.0 189.0,303.0 190.0,303.0 193.0,308.0 196.0,303.0 198.4,299.6 201.0,304.0 204.0,306.0 207.0,310.0 209.6,314.0 213.0,311.0 215.6,309.0 219.0,313.0 222.0,312.4 225.0,312.0 228.0,317.0 231.0,322.0 233.0,330.0 235.0,334.0 239.0,336.0 242.4,339.0 245.0,337.0 248.4,334.0 251.0,338.0 254.0,341.0 258.0,345.6 261.0,342.4 264.0,343.0 266.4,337.6 269.0,339.0 272.0,341.6 275.0,342.4 278.0,338.0 280.0,331.0 282.4,324.4 286.0,324.0 288.4,334.0 291.0,332.0 294.0,330.4 298.0,329.0 301.0,324.0 305.0,320.4 307.0,327.0 310.0,328.0 313.0,330.0 316.0,334.0 320.0,333.0 324.0,332.4 328.0,335.0 330.4,337.0 332.4,349.0 336.0,348.0 340.0,350.0 343.0,352.0 346.0,354.0 350.0,353.0 353.0,348.0 358.0,348.4 362.0,344.0 365.0,340.0 367.6,343.0 370.0,341.0 373.0,343.0 377.0,345.6 380.0,348.0 384.0,351.0 388.0,352.0 391.6,355.6 396.0,354.0 401.0,352.4 406.0,352.0 410.0,351.0 414.0,353.0 416.0,359.6 420.0,360.4 424.0,361.0 427.0,363.0 434.0,363.0 442.0,363.6 447.0,366.0 454.0,365.6 462.0,366.0 470.0,366.4 480.0,367.0 490.0,367.4" stroke="#000" stroke-width="2.2"/>
<polyline points="34.0,212.0 37.0,215.0 39.6,214.4 41.0,208.0 43.0,207.0 46.0,204.0 47.0,205.0 48.4,200.0 50.0,204.0 53.0,208.0 56.0,217.0 59.0,214.4 61.0,219.0 66.0,225.0 70.0,227.0 73.6,232.4 76.4,227.0 78.0,222.4 79.4,236.0 81.0,255.0 84.0,248.0 87.4,240.0 90.0,244.0 93.0,251.0 96.0,250.0 98.0,252.0 100.0,252.0 104.0,258.0 108.0,260.4 112.0,258.0 115.0,257.0 116.4,253.6 119.0,261.0 122.0,265.0 125.0,271.0 129.0,277.0 134.0,279.0 138.0,283.0 142.0,292.0 145.0,295.0 147.4,298.0 149.4,288.0 151.0,283.0 153.0,287.0 155.6,280.0 158.0,276.0 162.0,279.0 166.0,279.0 168.0,274.0 170.0,277.0 173.0,270.0 175.0,264.0 178.0,264.4 181.0,259.0 183.6,257.6 186.0,270.0 188.0,266.0 190.0,266.0 193.0,270.0 195.6,264.0 198.4,255.0 201.0,259.0 204.0,263.0 207.0,266.0 209.6,275.0 212.4,271.0 215.6,265.6 219.0,269.6 222.0,268.4 225.0,267.6 228.0,272.0 231.6,277.0 233.0,287.0 235.0,293.0 238.0,295.0 241.0,295.0 243.6,299.0 246.0,295.0 248.4,293.0 251.0,298.0 254.0,301.0 257.0,304.0 258.4,305.6 261.0,301.6 264.0,301.0 266.0,295.0 269.0,297.0 272.0,301.0 275.0,301.6 278.0,297.0 280.0,289.0 282.4,278.0 285.0,277.0 287.0,277.6 289.0,282.4 292.0,280.0 294.0,278.0 298.0,278.4 301.0,270.0 305.0,268.4 307.0,278.0 310.0,281.0 313.0,283.0 316.0,291.0 320.0,289.6 324.0,289.0 328.0,292.0 330.0,295.0 332.0,307.0 335.0,306.0 339.0,308.0 342.0,310.0 345.0,313.6 350.0,313.0 352.0,304.0 357.0,304.4 361.0,301.0 364.4,293.0 367.0,297.0 369.6,294.0 373.0,298.0 377.0,301.0 380.0,303.0 383.0,307.0 387.0,307.6 391.0,312.4 395.0,309.6 399.0,309.6 402.0,306.0 406.0,307.6 410.0,307.0 414.0,305.0 417.0,309.6 420.0,309.0 423.0,307.0 426.0,310.0 430.0,311.0 434.0,311.6 438.0,310.0 442.0,312.4 446.0,315.0 448.0,317.0 454.0,316.4 457.0,318.0 462.0,317.0 468.0,316.4 474.0,318.0 480.0,319.0 486.0,319.0 490.0,320.0" stroke="#00f" stroke-width="2.2"/>
<path d="M70 214.5h1M72 214.5h1M74 215.5h1M76 215.5h1M78 215.5h1M80 217.5h1M82 220.5h1M84 222.5h1M86 225.5h1M88 228.5h1M90 230.5h1M92 232.5h1M94 234.5h1M96 236.5h1M98 238.5h1M100 240.5h1M102 242.5h1M104 244.5h1M106 245.5h1M108 247.5h1M110 249.5h1M112 250.5h1M114 251.5h1M116 251.5h1M118 252.5h1M120 253.5h1M122 255.5h1M124 256.5h1M126 257.5h1M128 259.5h1M130 260.5h1M132 262.5h1M134 263.5h1M136 265.5h1M138 266.5h1M140 268.5h1M142 270.5h1M144 272.5h1M146 273.5h1M148 275.5h1M150 277.5h1M152 278.5h1M154 279.5h1M156 281.5h1M158 282.5h1M160 282.5h1M162 283.5h1M164 283.5h1M166 283.5h1M168 283.5h1M170 282.5h1M172 282.5h1M174 281.5h1M176 280.5h1M178 279.5h1M180 277.5h1M182 276.5h1M184 275.5h1M186 273.5h1M188 272.5h1M190 270.5h1M192 269.5h1M194 268.5h1M196 267.5h1M198 266.5h1M200 266.5h1M202 265.5h1M204 265.5h1M206 264.5h1M208 264.5h1M210 264.5h1M212 264.5h1M214 264.5h1M216 264.5h1M218 265.5h1M220 265.5h1M222 265.5h1M224 266.5h1M226 266.5h1M228 266.5h1M230 267.5h1M232 268.5h1M234 270.5h1M236 271.5h1M238 273.5h1M240 275.5h1M242 276.5h1M244 278.5h1M246 280.5h1M248 282.5h1M250 283.5h1M252 285.5h1M254 287.5h1M256 289.5h1M258 290.5h1M260 292.5h1M262 294.5h1M264 295.5h1M266 296.5h1M268 297.5h1M270 298.5h1M272 298.5h1M274 299.5h1M276 299.5h1M278 298.5h1M280 298.5h1M282 297.5h1M284 296.5h1M286 295.5h1M288 294.5h1M290 293.5h1M292 292.5h1M294 291.5h1M296 290.5h1M298 288.5h1M300 287.5h1M302 286.5h1M304 284.5h1M306 283.5h1M308 281.5h1M310 281.5h1M312 280.5h1M314 280.5h1M316 279.5h1M318 279.5h1M320 280.5h1M322 280.5h1M324 280.5h1M326 281.5h1M328 282.5h1M330 283.5h1M332 284.5h1M334 285.5h1M336 287.5h1M338 288.5h1M340 290.5h1M342 292.5h1M344 294.5h1M346 296.5h1M348 298.5h1M350 299.5h1M352 300.5h1M354 302.5h1M356 303.5h1M358 303.5h1M360 304.5h1M362 304.5h1M364 304.5h1M366 304.5h1M368 304.5h1M370 304.5h1M372 303.5h1M374 303.5h1M376 303.5h1M378 302.5h1M380 302.5h1M382 301.5h1M384 301.5h1M386 301.5h1M388 301.5h1M390 301.5h1M392 301.5h1M394 302.5h1M396 302.5h1M398 303.5h1M400 303.5h1M402 304.5h1M404 305.5h1M406 305.5h1M408 305.5h1M410 306.5h1M412 306.5h1M414 306.5h1M416 307.5h1M418 307.5h1M420 308.5h1M422 308.5h1M424 308.5h1M426 308.5h1M428 308.5h1M430 308.5h1M432 308.5h1M434 308.5h1M436 309.5h1M438 309.5h1M440 309.5h1M442 310.5h1M444 310.5h1M446 310.5h1M448 311.5h1M450 311.5h1M452 312.5h1M454 312.5h1M456 312.5h1M458 313.5h1M460 313.5h1M462 314.5h1M464 314.5h1M466 314.5h1M468 315.5h1M470 315.5h1M472 315.5h1M474 316.5h1M476 316.5h1M478 316.5h1M480 317.5h1M482 317.5h1M484 317.5h1M486 317.5h1M488 318.5h1M490 318.5h1" stroke="#f00" stroke-width="1"/>
<path d="M70 279.5h1M72 280.5h1M74 280.5h1M76 281.5h1M78 282.5h1M80 282.5h1M82 283.5h1M84 283.5h1M86 284.5h1M88 285.5h1M90 285.5h1M92 286.5h1M94 287.5h1M96 288.5h1M98 289.5h1M100 290.5h1M102 291.5h1M104 292.5h1M106 293.5h1M108 294.5h1M110 295.5h1M112 296.5h1M114 297.5h1M116 298.5h1M118 299.5h1M120 299.5h1M122 300.5h1M124 301.5h1M126 302.5h1M128 304.5h1M130 305.5h1M132 306.5h1M134 308.5h1M136 309.5h1M138 310.5h1M140 311.5h1M142 312.5h1M144 312.5h1M146 313.5h1M148 314.5h1M150 315.5h1M152 315.5h1M154 316.5h1M156 317.5h1M158 317.5h1M160 317.5h1M162 317.5h1M164 317.5h1M166 316.5h1M168 316.5h1M170 316.5h1M172 315.5h1M174 315.5h1M176 314.5h1M178 313.5h1M180 312.5h1M182 311.5h1M184 310.5h1M186 309.5h1M188 308.5h1M190 307.5h1M192 307.5h1M194 307.5h1M196 306.5h1M198 306.5h1M200 306.5h1M202 306.5h1M204 306.5h1M206 306.5h1M208 306.5h1M210 306.5h1M212 306.5h1M214 306.5h1M216 307.5h1M218 307.5h1M220 307.5h1M222 308.5h1M224 308.5h1M226 309.5h1M228 310.5h1M230 311.5h1M232 312.5h1M234 314.5h1M236 315.5h1M238 317.5h1M240 319.5h1M242 320.5h1M244 322.5h1M246 324.5h1M248 325.5h1M250 327.5h1M252 328.5h1M254 330.5h1M256 331.5h1M258 332.5h1M260 334.5h1M262 335.5h1M264 335.5h1M266 336.5h1M268 337.5h1M270 338.5h1M272 338.5h1M274 339.5h1M276 339.5h1M278 339.5h1M280 339.5h1M282 338.5h1M284 338.5h1M286 337.5h1M288 337.5h1M290 336.5h1M292 335.5h1M294 334.5h1M296 334.5h1M298 333.5h1M300 332.5h1M302 331.5h1M304 331.5h1M306 330.5h1M308 330.5h1M310 329.5h1M312 329.5h1M314 329.5h1M316 329.5h1M318 329.5h1M320 329.5h1M322 329.5h1M324 329.5h1M326 329.5h1M328 330.5h1M330 331.5h1M332 332.5h1M334 333.5h1M336 333.5h1M338 334.5h1M340 335.5h1M342 336.5h1M344 338.5h1M346 339.5h1M348 341.5h1M350 343.5h1M352 343.5h1M354 344.5h1M356 344.5h1M358 345.5h1M360 345.5h1M362 346.5h1M364 347.5h1M366 347.5h1M368 347.5h1M370 347.5h1M372 347.5h1M374 347.5h1M376 347.5h1M378 347.5h1M380 346.5h1M382 346.5h1M384 346.5h1M386 346.5h1M388 346.5h1M390 346.5h1M392 346.5h1M394 346.5h1M396 347.5h1M398 347.5h1M400 348.5h1M402 348.5h1M404 349.5h1M406 349.5h1M408 350.5h1M410 350.5h1M412 351.5h1M414 352.5h1M416 352.5h1M418 353.5h1M420 353.5h1M422 354.5h1M424 354.5h1M426 355.5h1M428 355.5h1M430 356.5h1M432 357.5h1M434 357.5h1M436 358.5h1M438 359.5h1M440 359.5h1M442 360.5h1M444 361.5h1M446 361.5h1M448 362.5h1M450 362.5h1M452 363.5h1M454 363.5h1M456 363.5h1M458 364.5h1M460 364.5h1M462 364.5h1M464 364.5h1M466 365.5h1M468 365.5h1M470 365.5h1M472 365.5h1M474 365.5h1M476 366.5h1M478 366.5h1M480 366.5h1M482 366.5h1M484 366.5h1M486 366.5h1M488 366.5h1M490 367.5h1" stroke="#f00" stroke-width="1"/>
<path d="M70 291.5h1M72 291.5h1M74 291.5h1M76 291.5h1M78 292.5h1M80 292.5h1M82 292.5h1M84 293.5h1M86 293.5h1M88 293.5h1M90 294.5h1M92 294.5h1M94 294.5h1M96 295.5h1M98 295.5h1M100 296.5h1M102 296.5h1M104 296.5h1M106 297.5h1M108 297.5h1M110 298.5h1M112 298.5h1M114 298.5h1M116 299.5h1M118 299.5h1M120 299.5h1M122 300.5h1M124 300.5h1M126 300.5h1M128 301.5h1M130 301.5h1M132 302.5h1M134 302.5h1M136 302.5h1M138 303.5h1M140 303.5h1M142 303.5h1M144 303.5h1M146 303.5h1M148 304.5h1M150 304.5h1M152 304.5h1M154 304.5h1M156 304.5h1M158 304.5h1M160 304.5h1M162 303.5h1M164 303.5h1M166 303.5h1M168 303.5h1M170 303.5h1M172 303.5h1M174 303.5h1M176 302.5h1M178 302.5h1M180 302.5h1M182 301.5h1M184 301.5h1M186 300.5h1M188 300.5h1M190 299.5h1M192 299.5h1M194 299.5h1M196 299.5h1M198 299.5h1M200 299.5h1M202 299.5h1M204 299.5h1M206 299.5h1M208 299.5h1M210 299.5h1M212 299.5h1M214 299.5h1M216 299.5h1M218 299.5h1M220 300.5h1M222 300.5h1M224 301.5h1M226 301.5h1M228 302.5h1M230 302.5h1M232 303.5h1M234 304.5h1M236 305.5h1M238 305.5h1M240 306.5h1M242 307.5h1M244 308.5h1M246 309.5h1M248 310.5h1M250 310.5h1M252 311.5h1M254 312.5h1M256 313.5h1M258 314.5h1M260 314.5h1M262 315.5h1M264 315.5h1M266 316.5h1M268 317.5h1M270 317.5h1M272 317.5h1M274 317.5h1M276 318.5h1M278 318.5h1M280 318.5h1M282 318.5h1M284 318.5h1M286 317.5h1M288 317.5h1M290 317.5h1M292 316.5h1M294 316.5h1M296 315.5h1M298 315.5h1M300 314.5h1M302 314.5h1M304 313.5h1M306 312.5h1M308 311.5h1M310 310.5h1M312 310.5h1M314 309.5h1M316 309.5h1M318 308.5h1M320 307.5h1M322 307.5h1M324 307.5h1M326 307.5h1M328 307.5h1M330 307.5h1M332 307.5h1M334 307.5h1M336 307.5h1M338 307.5h1M340 308.5h1M342 308.5h1M344 309.5h1M346 309.5h1M348 310.5h1M350 311.5h1M352 312.5h1M354 313.5h1M356 314.5h1M358 314.5h1M360 314.5h1M362 314.5h1M364 314.5h1M366 314.5h1M368 314.5h1M370 313.5h1M372 313.5h1M374 313.5h1M376 312.5h1M378 312.5h1M380 312.5h1M382 312.5h1M384 312.5h1M386 312.5h1M388 312.5h1M390 312.5h1M392 312.5h1M394 312.5h1M396 312.5h1M398 312.5h1M400 312.5h1M402 312.5h1M404 312.5h1M406 312.5h1M408 312.5h1M410 313.5h1M412 313.5h1M414 314.5h1M416 315.5h1M418 316.5h1M420 317.5h1M422 318.5h1M424 319.5h1M426 320.5h1M428 321.5h1M430 322.5h1M432 323.5h1M434 324.5h1M436 325.5h1M438 326.5h1M440 327.5h1M442 328.5h1M444 329.5h1M446 330.5h1M448 331.5h1M450 332.5h1M452 332.5h1M454 333.5h1M456 333.5h1M458 334.5h1M460 334.5h1M462 334.5h1M464 334.5h1M466 334.5h1M468 334.5h1M470 334.5h1M472 334.5h1M474 334.5h1M476 334.5h1M478 334.5h1M480 334.5h1M482 334.5h1M484 334.5h1M486 334.5h1M488 334.5h1M490 334.5h1" stroke="#000" stroke-width="1"/>
</g>
<g shape-rendering="crispEdges" fill="none" stroke="#f00">
<path d="M56.5 34v8.5" stroke-width="3"/><path d="M52.5 39.5l4 4l4 -4" stroke-width="1"/>
<path d="M80.5 37v8.5" stroke-width="3"/><path d="M76.5 42.5l4 4l4 -4" stroke-width="1"/>
<path d="M118.5 100v8.5" stroke-width="3"/><path d="M114.5 105.5l4 4l4 -4" stroke-width="1"/>
<path d="M194.5 92v8.5" stroke-width="3"/><path d="M190.5 97.5l4 4l4 -4" stroke-width="1"/>
<path d="M200.5 92v8.5" stroke-width="3"/><path d="M196.5 97.5l4 4l4 -4" stroke-width="1"/>
<path d="M272.5 161v8.5" stroke-width="3"/><path d="M268.5 166.5l4 4l4 -4" stroke-width="1"/>
<path d="M314.5 162v8.5" stroke-width="3"/><path d="M310.5 167.5l4 4l4 -4" stroke-width="1"/>
<path d="M378.5 195v8.5" stroke-width="3"/><path d="M374.5 200.5l4 4l4 -4" stroke-width="1"/>
<path d="M416.5 215v8.5" stroke-width="3"/><path d="M412.5 220.5l4 4l4 -4" stroke-width="1"/>
<path d="M469.5 248v8.5" stroke-width="3"/><path d="M465.5 253.5l4 4l4 -4" stroke-width="1"/>
<path d="M480.5 248v8.5" stroke-width="3"/><path d="M476.5 253.5l4 4l4 -4" stroke-width="1"/>
<path d="M484.5 248v8.5" stroke-width="3"/><path d="M480.5 253.5l4 4l4 -4" stroke-width="1"/>
<path d="M78.5 145.5v-9.5" stroke-width="3"/><path d="M74.5 138.5l4 -4l4 4" stroke-width="1"/>
<path d="M116.5 178.5v-9.5" stroke-width="3"/><path d="M112.5 171.5l4 -4l4 4" stroke-width="1"/>
<path d="M149.5 197.5v-9.5" stroke-width="3"/><path d="M145.5 190.5l4 -4l4 4" stroke-width="1"/>
<path d="M195.5 169.5v-9.5" stroke-width="3"/><path d="M191.5 162.5l4 -4l4 4" stroke-width="1"/>
<path d="M271.5 249.5v-9.5" stroke-width="3"/><path d="M267.5 242.5l4 -4l4 4" stroke-width="1"/>
<path d="M275.5 249.5v-9.5" stroke-width="3"/><path d="M271.5 242.5l4 -4l4 4" stroke-width="1"/>
<path d="M352.5 261.5v-9.5" stroke-width="3"/><path d="M348.5 254.5l4 -4l4 4" stroke-width="1"/>
<path d="M408.5 279.5v-9.5" stroke-width="3"/><path d="M404.5 272.5l4 -4l4 4" stroke-width="1"/>
<path d="M466.5 291.5v-9.5" stroke-width="3"/><path d="M462.5 284.5l4 -4l4 4" stroke-width="1"/>
<path d="M478.5 291.5v-9.5" stroke-width="3"/><path d="M474.5 284.5l4 -4l4 4" stroke-width="1"/>
<path d="M482.5 291.5v-9.5" stroke-width="3"/><path d="M478.5 284.5l4 -4l4 4" stroke-width="1"/>
</g><g fill="none" stroke="#f00">
<path d="M149.5 109V118M145.5 114L149.5 118L153.5 114" stroke-width="1"/>
<path d="M189.5 87V98M185.5 94L189.5 98L193.5 94" stroke-width="1"/>
<path d="M361.5 182V192M357.5 188L361.5 192L365.5 188" stroke-width="1"/>
<path d="M416.5 249V259M412.5 255L416.5 259L420.5 255" stroke-width="1"/>
</g>
<g fill="none" stroke="#000" stroke-width="1.25">
<path d="M173.5 87V97M169.5 93L173.5 97L177.5 93"/>
<path d="M193.5 76V86M189.5 82L193.5 86L197.5 82"/>
<path d="M209.5 95V104M205.5 100L209.5 104L213.5 100"/>
<path d="M288.5 124V134M284.5 130L288.5 134L292.5 130"/>
<path d="M268.5 141V151M264.5 147L268.5 151L272.5 147"/>
<path d="M332.5 165V174M328.5 170L332.5 174L336.5 170"/>
<path d="M416.5 199V209M412.5 205L416.5 209L420.5 205"/>
</g>
<text class="s" x="155" y="107.9" font-size="11.5" font-weight="normal" stroke="#000" stroke-width="0.45">S9</text>
<text class="s" x="178.2" y="104.3" font-size="13.4" font-weight="normal" stroke="#000" stroke-width="0.45">S13</text>
<text class="s" x="195.5" y="85.0" font-size="13.4" font-weight="normal" stroke="#000" stroke-width="0.45">S9</text>
<text class="s" x="199" y="89.2" font-size="13.4" font-weight="normal" stroke="#000" stroke-width="0.45">S14</text>
<text class="s" x="215" y="107.0" font-size="13.4" font-weight="normal" stroke="#000" stroke-width="0.45">S14</text>
<text class="s" x="293.6" y="137.0" font-size="13.4" font-weight="normal" stroke="#000" stroke-width="0.45">S14</text>
<text class="s" x="273.6" y="153.6" font-size="13.4" font-weight="normal" stroke="#000" stroke-width="0.45">S14</text>
<text class="s" x="337.3" y="177.8" font-size="13.4" font-weight="normal" stroke="#000" stroke-width="0.45">S14</text>
<text class="s" x="367" y="181.6" font-size="11.5" font-weight="normal" stroke="#000" stroke-width="0.45">S9</text>
<text class="s" x="421.6" y="212.0" font-size="13.4" font-weight="normal" stroke="#000" stroke-width="0.45">S14</text>
</svg></body></html>
